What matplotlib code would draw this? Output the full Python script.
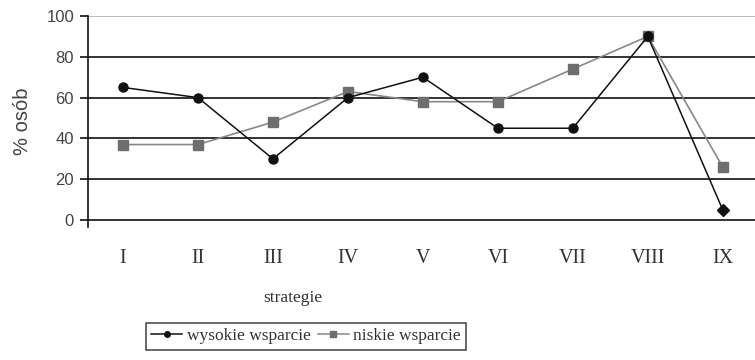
import matplotlib.pyplot as plt
import numpy as np

# data
strategie = ['I', 'II', 'III', 'IV', 'V', 'VI', 'VII', 'VIII', 'IX']
wysokie = [65, 60, 30, 60, 70, 45, 45, 90, 5]
niskie = [37, 37, 48, 63, 58, 58, 74, 90, 26]
y_ticks = [0, 20, 40, 60, 80, 100]

serif = 'Liberation Serif'
sans = 'Liberation Sans'

fig = plt.figure(figsize=(7.55, 3.6), dpi=100)
ax = fig.add_axes([88 / 755, 1 - 227 / 360, 667 / 755, (227 - 16) / 360])

x = np.arange(len(strategie))

# horizontal grid
for v in y_ticks:
    col = '#b0b0b0' if v == 100 else '#111111'
    ax.axhline(v, color=col, lw=1.2, zorder=1)

ax.plot(x, niskie, color='#888888', lw=1.2, marker='s', ms=6.5,
        mfc='#6e6e6e', mec='#6e6e6e', zorder=3, label='niskie wsparcie')
ax.plot(x[:-1], wysokie[:-1], color='#111111', lw=1.1, marker='o', ms=6.5,
        mfc='#111111', mec='#111111', zorder=4)
ax.plot(x[-2:], wysokie[-2:], color='#111111', lw=1.1, zorder=4)
ax.plot(x[-1], wysokie[-1], marker='D', ms=6, color='#111111', ls='none', zorder=4)

ax.set_xlim(-0.467, 8.43)
ax.set_ylim(-3.4, 100)

for s in ['top', 'right', 'bottom']:
    ax.spines[s].set_visible(False)
ax.spines['left'].set_color('#111111')
ax.spines['left'].set_linewidth(1.2)

ax.set_yticks(y_ticks)
ax.set_yticklabels([str(v) for v in y_ticks], fontfamily=sans, fontsize=12, color='#444444')
ax.tick_params(axis='y', length=6, width=1.2, color='#111111', pad=4)
ax.set_xticks(x)
ax.set_xticklabels(strategie, fontfamily=serif, fontsize=14.5, color='#333333')
ax.tick_params(axis='x', length=0, pad=16)

ax.set_ylabel('% osób', fontfamily=sans, fontsize=14.5, color='#444444', labelpad=10)

fig.text(293 / 755, 1 - 298 / 360, 'strategie', fontfamily=serif, fontsize=12.5,
         color='#333333', ha='center', va='center')

# legend
h1, = ax.plot([], [], color='#111111', lw=1.1, marker='o', ms=4)
h2, = ax.plot([], [], color='#888888', lw=1.1, marker='s', ms=4, mfc='#6e6e6e', mec='#6e6e6e')
leg = fig.legend([h1, h2], ['wysokie wsparcie', 'niskie wsparcie'], ncol=2,
                 loc='upper left', bbox_to_anchor=(146 / 755, 1 - 323 / 360),
                 frameon=True, fancybox=False, edgecolor='#111111',
                 prop={'family': serif, 'size': 12.5}, handlelength=1.8,
                 handletextpad=0.25, columnspacing=0.4, borderpad=0.3,
                 borderaxespad=0)
leg.get_frame().set_linewidth(1.1)
for t in leg.get_texts():
    t.set_color('#333333')

plt.savefig('out.png', dpi=100)
